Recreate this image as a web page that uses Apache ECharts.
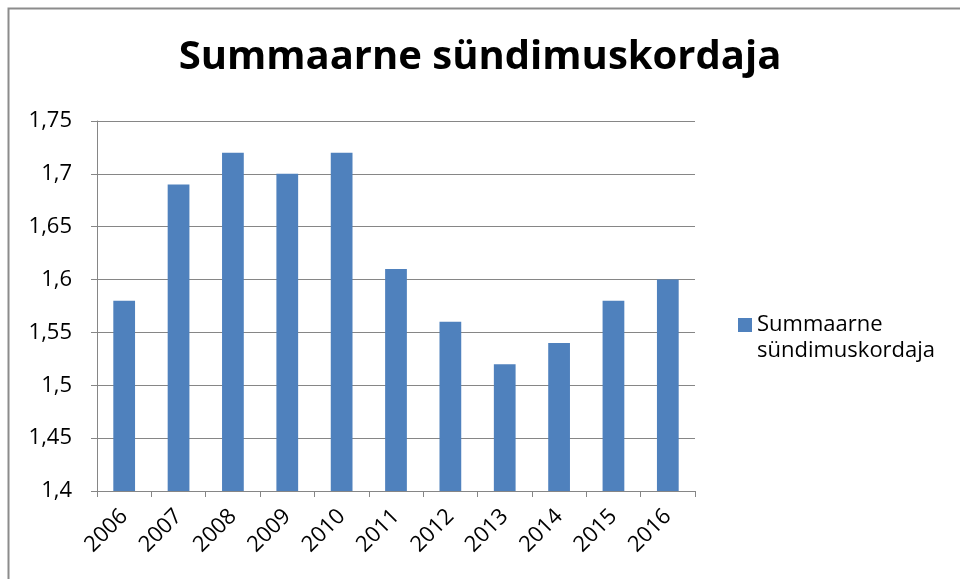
<!DOCTYPE html>
<html>
<head>
<meta charset="utf-8">
<script src="https://cdn.jsdelivr.net/npm/echarts@6/dist/echarts.min.js"></script>
<style>
  html, body { margin: 0; padding: 0; background: #ffffff; }
  #chart { width: 960px; height: 579px; }
</style>
</head>
<body>
<div id="chart"></div>
<script>
var years = ['2006', '2007', '2008', '2009', '2010', '2011', '2012', '2013', '2014', '2015', '2016'];
var fertility = [1.58, 1.69, 1.72, 1.70, 1.72, 1.61, 1.56, 1.52, 1.54, 1.58, 1.60];
var seriesName = 'Summaarne sündimuskordaja';

var chart = echarts.init(document.getElementById('chart'), null, { renderer: 'canvas' });

var option = {
  backgroundColor: '#ffffff',
  animation: false,
  graphic: [{
    type: 'rect',
    shape: { x: 8.5, y: 8.5, width: 960, height: 600 },
    style: { fill: 'none', stroke: '#8c8c8c', lineWidth: 2 }
  }, {
    // second line of the legend label
    type: 'text',
    left: 757,
    top: 340,
    style: {
      text: 'sündimuskordaja',
      font: '22px "Open Sans"',
      fill: '#000000'
    }
  }],
  title: {
    text: 'Summaarne sündimuskordaja',
    left: 'center',
    top: 33,
    textStyle: {
      fontFamily: 'Open Sans',
      fontWeight: 'bold',
      fontSize: 40,
      color: '#000000'
    }
  },
  legend: {
    orient: 'vertical',
    left: 733,
    top: 309,
    itemWidth: 14,
    itemHeight: 14,
    itemGap: 6,
    formatter: function () { return 'Summaarne'; },
    textStyle: {
      fontFamily: 'Open Sans',
      fontSize: 22,
      color: '#000000'
    },
    data: [{ name: seriesName, icon: 'rect' }]
  },
  grid: {
    left: 97,
    top: 121,
    width: 598,
    height: 370,
    containLabel: false
  },
  xAxis: {
    type: 'category',
    data: years,
    boundaryGap: true,
    axisLine: { lineStyle: { color: '#868686', width: 1 } },
    axisTick: { show: true, alignWithLabel: false, length: 6, lineStyle: { color: '#868686' } },
    axisLabel: {
      rotate: 45,
      fontFamily: 'Open Sans',
      fontSize: 22,
      color: '#000000',
      margin: 22
    }
  },
  yAxis: {
    type: 'value',
    min: 1.4,
    max: 1.75,
    interval: 0.05,
    axisLine: { show: true, lineStyle: { color: '#868686', width: 1 } },
    axisTick: { show: true, length: 6, lineStyle: { color: '#868686' } },
    splitLine: { show: true, lineStyle: { color: '#868686', width: 1 } },
    axisLabel: {
      fontFamily: 'Open Sans',
      fontSize: 22,
      color: '#000000',
      margin: 25,
      formatter: function (v) {
        return String(+v.toFixed(2)).replace('.', ',');
      }
    }
  },
  series: [{
    name: seriesName,
    type: 'bar',
    data: fertility,
    barWidth: '40%',
    itemStyle: { color: '#4F81BD' }
  }]
};

chart.setOption(option);
</script>
</body>
</html>
